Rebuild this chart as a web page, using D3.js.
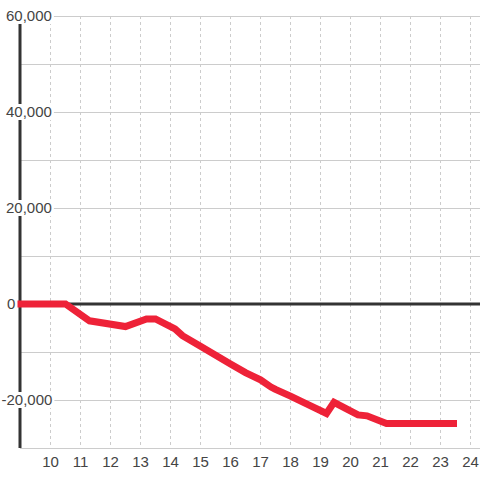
<!DOCTYPE html>
<html>
<head>
<meta charset="UTF-8">
<script src="https://d3js.org/d3.v7.min.js"></script>
<style>
  body { margin: 0; background: #ffffff; }
  text { font-family: "Liberation Sans", Arial, sans-serif; }
</style>
</head>
<body>
<svg width="480" height="480" id="mainsvg"></svg>
<script>
// data
const xs = [8.9, 10.5, 11.3, 12.5, 13.2, 13.5, 14.15, 14.4, 15.0, 16.0, 16.5, 17.0, 17.35, 17.5, 18.0, 18.5, 19.2, 19.45, 20.25, 20.55, 21.2, 23.55];
const ys = [0, 0, -3500, -4700, -3100, -3100, -5200, -6600, -8800, -12500, -14300, -15800, -17300, -17800, -19200, -20700, -22800, -20500, -23100, -23300, -24900, -24900];
const xTicks = [10, 11, 12, 13, 14, 15, 16, 17, 18, 19, 20, 21, 22, 23, 24];
const yGrid = [-30000, -20000, -10000, 0, 10000, 20000, 30000, 40000, 50000, 60000];
const yLabels = [-20000, 0, 20000, 40000, 60000];

const svg = d3.select('#mainsvg');
const plotLeft = 20, plotRight = 480, plotTop = 16, plotBottom = 448;

const xScale = d3.scaleLinear().domain([10, 24]).range([50.5, 470.5]);
const yScale = d3.scaleLinear().domain([-30000, 60000]).range([plotBottom, plotTop]);

const g = svg.append('g');

// horizontal grid
g.selectAll('.hgrid').data(yGrid).join('line')
  .attr('x1', plotLeft).attr('x2', plotRight)
  .attr('y1', d => yScale(d) + 0.5).attr('y2', d => yScale(d) + 0.5)
  .attr('stroke', '#cccccc').attr('stroke-width', 1);

// vertical dashed grid
g.selectAll('.vgrid').data(xTicks).join('line')
  .attr('x1', d => xScale(d)).attr('x2', d => xScale(d))
  .attr('y1', plotTop).attr('y2', plotBottom)
  .attr('stroke', '#cccccc').attr('stroke-width', 1)
  .attr('stroke-dasharray', '3,3');

// zero line
g.append('line')
  .attr('x1', plotLeft).attr('x2', plotRight)
  .attr('y1', yScale(0)).attr('y2', yScale(0))
  .attr('stroke', '#333333').attr('stroke-width', 3);

// y axis line
g.append('line')
  .attr('x1', plotLeft).attr('x2', plotLeft)
  .attr('y1', plotTop).attr('y2', plotBottom)
  .attr('stroke', '#333333').attr('stroke-width', 3);

// y labels with white background
const fmt = d3.format(',');
const yl = g.selectAll('.ylab').data(yLabels).join('g')
  .attr('transform', d => `translate(${d < 0 ? 1.5 : (d === 0 ? 7 : 6)}, ${yScale(d)})`);
yl.append('rect')
  .attr('x', -2).attr('y', -8).attr('height', 16)
  .attr('fill', '#ffffff');
yl.append('text')
  .attr('dy', '0.35em')
  .attr('font-size', 15)
  .attr('fill', '#444444')
  .text(d => fmt(d).replace('−', '-'));
yl.each(function() {
  const t = d3.select(this).select('text').node().getComputedTextLength();
  d3.select(this).select('rect').attr('width', t + 4);
});

// x labels
g.selectAll('.xlab').data(xTicks).join('text')
  .attr('x', d => xScale(d)).attr('y', 462)
  .attr('dy', '0.35em')
  .attr('text-anchor', 'middle')
  .attr('font-size', 15)
  .attr('fill', '#444444')
  .text(d => d);

// line
const pts = xs.map((x, i) => [x, ys[i]]);
const line = d3.line().x(d => xScale(d[0])).y(d => yScale(d[1]));
g.append('path')
  .datum(pts)
  .attr('d', line)
  .attr('fill', 'none')
  .attr('stroke', '#ee2238')
  .attr('stroke-width', 7)
  .attr('stroke-linejoin', 'miter');
</script>
</body>
</html>
